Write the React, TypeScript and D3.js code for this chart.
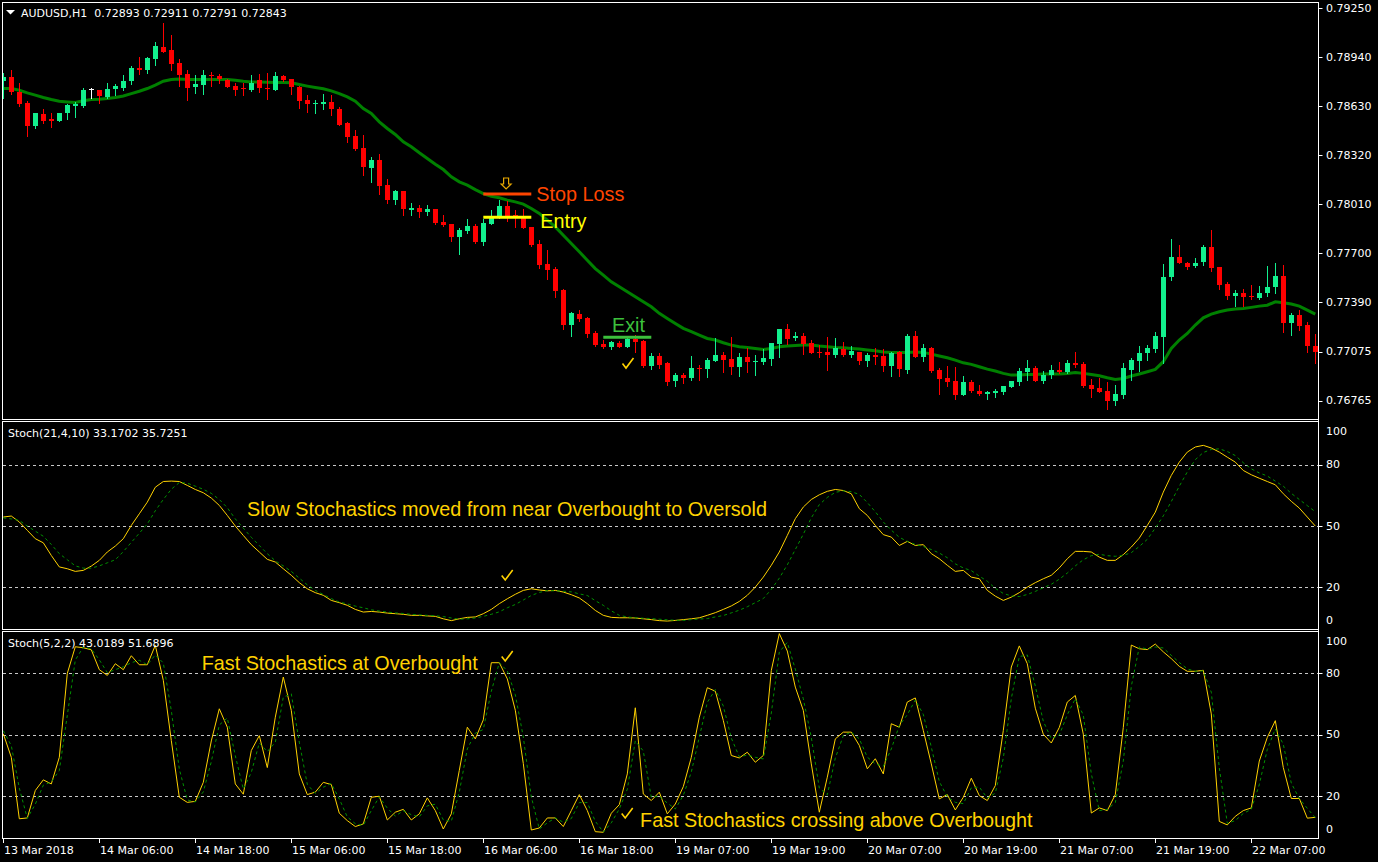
import React from "react";
import * as d3 from "d3";

const openP = [0.78788,0.78814,0.78717,0.78649,0.78503,0.78579,0.78550,0.78537,0.78584,0.78634,0.78630,0.78736,0.78731,0.78689,0.78738,0.78748,0.78790,0.78871,0.78858,0.78928,0.79004,0.78985,0.78902,0.78833,0.78752,0.78763,0.78826,0.78824,0.78799,0.78759,0.78746,0.78731,0.78795,0.78748,0.78731,0.78820,0.78801,0.78752,0.78672,0.78645,0.78643,0.78655,0.78611,0.78525,0.78440,0.78366,0.78240,0.78288,0.78130,0.78039,0.78092,0.77974,0.77986,0.77961,0.77978,0.77898,0.77883,0.77803,0.77839,0.77870,0.77769,0.77883,0.77934,0.77997,0.77944,0.77919,0.77862,0.77757,0.77630,0.77598,0.77465,0.77244,0.77313,0.77290,0.77195,0.77124,0.77107,0.77128,0.77107,0.77155,0.77145,0.76986,0.77048,0.77001,0.76891,0.76927,0.76906,0.76974,0.76965,0.77016,0.77054,0.77029,0.76980,0.77039,0.77012,0.77007,0.77029,0.77124,0.77218,0.77162,0.77174,0.77132,0.77075,0.77075,0.77054,0.77090,0.77054,0.77075,0.77018,0.77054,0.77048,0.76986,0.77075,0.76959,0.77174,0.77043,0.77096,0.76959,0.76910,0.76889,0.76801,0.76881,0.76826,0.76807,0.76811,0.76818,0.76853,0.76883,0.76948,0.76972,0.76889,0.76927,0.76959,0.76948,0.77003,0.76997,0.76864,0.76847,0.76826,0.76763,0.76801,0.76959,0.77016,0.77064,0.77090,0.77170,0.77550,0.77676,0.77638,0.77619,0.77645,0.77737,0.77611,0.77503,0.77429,0.77444,0.77429,0.77417,0.77444,0.77482,0.77554,0.77254,0.77307,0.77244,0.77113];
const highP = [0.78841,0.78858,0.78774,0.78662,0.78590,0.78611,0.78590,0.78590,0.78647,0.78657,0.78746,0.78748,0.78731,0.78774,0.78769,0.78826,0.78883,0.78940,0.78942,0.79035,0.79158,0.79079,0.78928,0.78858,0.78826,0.78858,0.78847,0.78833,0.78805,0.78774,0.78778,0.78826,0.78833,0.78841,0.78847,0.78826,0.78801,0.78757,0.78700,0.78672,0.78710,0.78700,0.78622,0.78531,0.78478,0.78446,0.78309,0.78326,0.78166,0.78102,0.78092,0.78016,0.78003,0.78003,0.77982,0.77940,0.77883,0.77856,0.77915,0.77887,0.77913,0.77972,0.78035,0.78027,0.77972,0.77982,0.77866,0.77782,0.77719,0.77613,0.77470,0.77328,0.77339,0.77297,0.77206,0.77149,0.77145,0.77145,0.77166,0.77180,0.77149,0.77064,0.77064,0.77012,0.76942,0.76938,0.77048,0.76991,0.77033,0.77159,0.77071,0.77166,0.77064,0.77096,0.77054,0.77090,0.77128,0.77218,0.77250,0.77199,0.77191,0.77149,0.77117,0.77170,0.77159,0.77138,0.77111,0.77075,0.77064,0.77096,0.77090,0.77075,0.77081,0.77187,0.77206,0.77124,0.77107,0.76969,0.76984,0.76980,0.76921,0.76896,0.76864,0.76826,0.76839,0.76858,0.76889,0.76969,0.77022,0.76984,0.76953,0.76991,0.77007,0.77022,0.77071,0.77007,0.76900,0.76906,0.76881,0.76864,0.77001,0.77033,0.77111,0.77117,0.77202,0.77630,0.77788,0.77750,0.77645,0.77666,0.77754,0.77845,0.77611,0.77518,0.77465,0.77472,0.77497,0.77491,0.77617,0.77634,0.77624,0.77318,0.77339,0.77265,0.77187];
const lowP = [0.78683,0.78710,0.78630,0.78440,0.78495,0.78525,0.78497,0.78535,0.78550,0.78563,0.78622,0.78683,0.78653,0.78685,0.78704,0.78731,0.78769,0.78837,0.78841,0.78890,0.78974,0.78858,0.78757,0.78672,0.78714,0.78706,0.78759,0.78774,0.78752,0.78700,0.78700,0.78727,0.78721,0.78676,0.78731,0.78788,0.78706,0.78620,0.78594,0.78588,0.78615,0.78573,0.78510,0.78404,0.78352,0.78193,0.78151,0.78077,0.78014,0.78008,0.77942,0.77942,0.77929,0.77940,0.77883,0.77872,0.77778,0.77693,0.77828,0.77765,0.77750,0.77883,0.77919,0.77904,0.77862,0.77856,0.77746,0.77607,0.77535,0.77423,0.77218,0.77174,0.77271,0.77166,0.77113,0.77100,0.77090,0.77102,0.77107,0.77071,0.76980,0.76965,0.76974,0.76864,0.76858,0.76879,0.76896,0.76896,0.76917,0.77016,0.76948,0.76934,0.76923,0.76948,0.76927,0.76997,0.76991,0.77043,0.77124,0.77149,0.77060,0.77064,0.77043,0.76959,0.77043,0.77048,0.77043,0.76997,0.76984,0.76997,0.76955,0.76921,0.76921,0.76942,0.77043,0.77018,0.76948,0.76807,0.76858,0.76775,0.76801,0.76818,0.76801,0.76775,0.76790,0.76807,0.76853,0.76864,0.76896,0.76889,0.76879,0.76910,0.76942,0.76942,0.76980,0.76853,0.76790,0.76822,0.76712,0.76737,0.76780,0.76896,0.76953,0.77022,0.77075,0.77001,0.77529,0.77634,0.77600,0.77609,0.77624,0.77588,0.77474,0.77412,0.77364,0.77364,0.77412,0.77406,0.77429,0.77448,0.77202,0.77180,0.77212,0.77075,0.77001];
const closeP = [0.78812,0.78721,0.78643,0.78503,0.78584,0.78535,0.78537,0.78586,0.78636,0.78641,0.78731,0.78736,0.78693,0.78742,0.78757,0.78788,0.78871,0.78858,0.78934,0.79010,0.78974,0.78898,0.78826,0.78746,0.78769,0.78826,0.78820,0.78803,0.78752,0.78731,0.78736,0.78778,0.78746,0.78736,0.78820,0.78795,0.78752,0.78662,0.78647,0.78651,0.78657,0.78611,0.78514,0.78436,0.78358,0.78246,0.78288,0.78126,0.78035,0.78092,0.77976,0.77984,0.77961,0.77978,0.77891,0.77877,0.77803,0.77845,0.77870,0.77769,0.77889,0.77919,0.77997,0.77934,0.77929,0.77860,0.77750,0.77624,0.77592,0.77459,0.77244,0.77322,0.77282,0.77187,0.77117,0.77107,0.77138,0.77107,0.77155,0.77138,0.76984,0.77048,0.76991,0.76885,0.76927,0.76910,0.76969,0.76965,0.77022,0.77054,0.77022,0.76980,0.77039,0.77012,0.77018,0.77033,0.77128,0.77218,0.77155,0.77174,0.77124,0.77069,0.77069,0.77054,0.77096,0.77054,0.77081,0.77018,0.77054,0.77043,0.76984,0.77064,0.76963,0.77174,0.77043,0.77096,0.76955,0.76902,0.76885,0.76801,0.76881,0.76826,0.76807,0.76820,0.76828,0.76858,0.76889,0.76953,0.76972,0.76889,0.76927,0.76959,0.76948,0.77003,0.76991,0.76860,0.76839,0.76822,0.76763,0.76807,0.76974,0.77022,0.77069,0.77096,0.77174,0.77550,0.77676,0.77638,0.77613,0.77640,0.77737,0.77607,0.77497,0.77429,0.77444,0.77423,0.77419,0.77444,0.77486,0.77554,0.77254,0.77307,0.77240,0.77113,0.77075];
const maP = [0.78742,0.78742,0.78731,0.78714,0.78700,0.78685,0.78672,0.78662,0.78657,0.78653,0.78664,0.78672,0.78674,0.78679,0.78685,0.78695,0.78710,0.78725,0.78742,0.78763,0.78788,0.78799,0.78803,0.78799,0.78799,0.78799,0.78799,0.78799,0.78799,0.78795,0.78788,0.78784,0.78784,0.78782,0.78780,0.78780,0.78778,0.78767,0.78757,0.78748,0.78740,0.78727,0.78710,0.78689,0.78662,0.78615,0.78584,0.78531,0.78489,0.78451,0.78404,0.78373,0.78335,0.78299,0.78263,0.78229,0.78183,0.78151,0.78130,0.78102,0.78077,0.78060,0.78050,0.78035,0.78024,0.78010,0.77982,0.77951,0.77908,0.77866,0.77813,0.77761,0.77708,0.77655,0.77602,0.77560,0.77518,0.77486,0.77455,0.77423,0.77391,0.77360,0.77318,0.77286,0.77254,0.77223,0.77202,0.77180,0.77159,0.77149,0.77132,0.77117,0.77107,0.77102,0.77096,0.77090,0.77096,0.77107,0.77111,0.77115,0.77117,0.77117,0.77111,0.77107,0.77102,0.77100,0.77096,0.77092,0.77086,0.77081,0.77073,0.77071,0.77071,0.77071,0.77073,0.77071,0.77060,0.77048,0.77037,0.77022,0.77005,0.76995,0.76980,0.76965,0.76953,0.76938,0.76927,0.76927,0.76931,0.76931,0.76934,0.76934,0.76934,0.76938,0.76944,0.76938,0.76931,0.76923,0.76910,0.76900,0.76906,0.76921,0.76934,0.76948,0.76963,0.77012,0.77096,0.77149,0.77191,0.77244,0.77290,0.77313,0.77328,0.77339,0.77345,0.77349,0.77356,0.77364,0.77370,0.77391,0.77385,0.77377,0.77364,0.77339,0.77313];

const slowMain = [54.4,54.9,52,47.9,43.8,41.8,35.6,30,29.1,27.8,28.3,30.4,33.2,37.3,40.2,43.8,50.3,56,61.7,69,71.8,72,71.8,69.9,67.9,66.3,63.7,60.1,55.2,50,45.4,40.9,37.3,33.7,32.4,29.1,25.9,22.3,19.3,17.4,16.1,13.6,12.5,11.2,9.2,7.9,8.2,7.9,7.4,7.1,6.8,6.3,6.3,6,5.8,4.6,3.7,4.6,5.3,5.5,7.1,9.2,12,14.4,16.6,18.5,19.3,18.7,18.3,18.5,17.7,16.4,14.8,12,8.7,6.3,5.3,5.1,5.1,5,4.6,4.2,3.7,3.5,3.8,4.2,4.6,5.1,6.3,7.6,9.2,10.9,13.1,16.1,20.1,25,30.8,37.3,45.4,53.6,59.3,63,65.3,67,67.9,67.4,65.8,58.5,55.2,50.3,45.8,44.6,40.5,42.5,40.5,40.9,36.5,34,30.8,27.8,28.3,25,24.2,18.5,15.7,13.6,15.2,17.4,20.1,22.3,24.2,25.9,29.5,34,37.6,37.6,37.3,34.8,33.2,33.2,36,39.7,44.1,50.3,56.8,66.6,74.8,81.3,86.2,88.7,89.5,88.2,86.2,83.7,81.3,77.2,75.1,73.4,71.8,70.2,65.8,62.1,58.8,54.4,50];
const slowSignal = [54,53.5,52.8,50,47.5,45,41,36.5,33.5,30.5,29.4,29.4,30.5,32,33.5,37.5,42,46.5,51,57.5,63,68,71.3,71,69.5,68,66,63,59,53.5,49,44.5,40.5,36.5,33,30.5,27.8,24.5,21.2,18.5,16.5,14.5,12.8,11.9,10.8,10,9,8.4,7.9,7.5,7.2,6.8,6.5,6.3,6.1,5.7,5,4.4,4.6,5,5.8,6.8,8,10,11.6,13.8,16,17.5,18.4,18.3,18.1,17.8,16.8,16,13.5,11.2,8.5,6.3,5.5,5.1,4.9,4.7,4.4,4.1,3.9,3.8,4.2,4.5,4.7,5.5,6.2,7.5,8.8,10.5,12.5,14.5,19,24.5,31,38.5,46,54,60.5,64,66.5,67.2,66.8,65.5,61.5,57,52,48,44.5,42.5,41,40,38.5,36.8,34.5,31.5,29.5,28.2,25.5,23,19.5,17,15.8,15.5,16.5,18,19.8,21.5,24,27,30.5,33.5,35.5,36.2,35.5,35.2,35.6,37,40,43.5,49,55,62,69.5,76.5,82.5,86,87.5,87.8,86.5,84.5,81,78,76,74.5,72,69.5,66,63,60,57];
const fastMain = [50.5,39,9,9.4,22.8,28,26,39,80,93,92.5,91.5,81.8,79,84.7,81.8,88.6,84.2,84.2,93.7,76.6,47.2,19.5,17,17.5,26.8,47,62.7,53.7,26,21,42.3,49.6,34,58.6,78.2,61.9,30.9,20.8,22,26.8,25.7,11.7,8.1,5.2,6.5,19.5,20,8.4,12.2,13.6,8.4,11.4,19.2,13,4,11.4,32.6,53.7,48,57.3,85.2,85.2,77.3,62,36,3.5,4.5,9.4,9.4,5.2,13,20.8,13,2.7,2.4,11.7,15.9,30.9,63.2,21.1,17.9,22,11.4,16.2,24.7,39,58.6,73,71.3,57,39.9,38.7,41.5,36.6,39.9,81.4,99.4,90.9,73.3,61.9,35.8,12.2,29.3,48,51.3,51.3,44.8,33.4,38.3,30.9,55.4,53.7,66,68,52.1,35.8,18.7,20.8,13.3,19.5,28.8,20.3,17.9,25.2,52.1,83.1,93.4,84.7,63,50.3,46,53.6,66,69.2,50.3,11.8,14.3,13,20.8,53.6,93.8,92,91.6,94.3,90.5,87.2,83.4,81,81,81.5,60.2,7.7,6,10.2,13,14.3,37.2,48.7,56.9,34,18.9,18.9,9.3,9.7];
const fastSignal = [52,44.7,24,9.2,16.1,25.4,27,32.5,59.5,86.5,92.8,92,86.6,80.4,81.8,83.2,85.2,86.4,84.2,89,85.1,61.9,33.3,18.2,17.2,22.1,36.9,54.8,58.2,39.8,23.5,31.6,46,41.8,46.3,68.4,70,46.4,25.8,21.4,24.4,26.2,18.7,9.9,6.6,5.8,13,19.7,14.2,10.3,12.9,11,9.9,15.3,16.1,8.5,7.7,22,43.1,50.8,52.6,71.2,85.2,81.2,69.6,49,19.7,4,7,9.4,7.3,9.1,16.9,16.9,7.8,2.5,7,13.8,23.4,47,42.1,19.5,20,16.7,13.8,20.4,31.8,48.8,65.8,72.1,64.1,48.4,39.3,40.1,39,38.2,60.6,90.4,95.1,82.1,67.6,48.8,24,20.7,38.6,49.6,51.3,48,39.1,35.8,34.6,43.1,54.5,59.8,67,60,44,27.2,19.7,17,16.4,24.1,24.5,19.1,21.5,38.6,67.6,88.2,89,73.8,56.6,48.1,49.8,59.8,67.6,59.7,31,13,13.6,16.9,37.2,73.7,92.9,91.8,92.9,92.4,88.8,85.3,82.2,81,81.2,70.8,33.9,6.8,8.1,11.6,13.6,25.7,42.9,52.8,45.4,26.4,18.9,14.1,9.5];

const timeLabels = ["13 Mar 2018","14 Mar 06:00","14 Mar 18:00","15 Mar 06:00","15 Mar 18:00","16 Mar 06:00","16 Mar 18:00","19 Mar 07:00","19 Mar 19:00","20 Mar 07:00","20 Mar 19:00","21 Mar 07:00","21 Mar 19:00","22 Mar 07:00"];
const barsPerLabel = 12;
const priceTicks = [0.7925,0.7894,0.7863,0.7832,0.7801,0.777,0.7739,0.77075,0.76765];
const stochLevels = [80, 50, 20];
const stochAxis = [100, 80, 50, 20, 0];

const headerMain = "AUDUSD,H1  0.72893 0.72911 0.72791 0.72843";
const headerSlow = "Stoch(21,4,10) 33.1702 35.7251";
const headerFast = "Stoch(5,2,2) 43.0189 51.6896";

const stopLoss = { price: 0.78074, from: 60, to: 66, label: "Stop Loss" };
const entry = { price: 0.77927, from: 60, to: 66, label: "Entry" };
const exitLvl = { price: 0.77167, from: 75, to: 81, label: "Exit" };

const slowNote = { bar: 30.46, value: 54.9, text: "Slow Stochastics moved from near Overbought to Oversold" };
const fastNote1 = { bar: 24.8, value: 81.6, text: "Fast Stochastics at Overbought" };
const fastNote2 = { bar: 79.6, value: 5.0, text: "Fast Stochastics crossing above Overbought" };
const checkMain = { bar: 77.4, price: 0.77035 };
const checkSlow = { bar: 62.3, value: 28.5 };
const checkFast1 = { bar: 62.3, value: 90.9 };
const checkFast2 = { bar: 77.3, value: 14.3 };

const BULL = "#12F08E";
const BEAR = "#FF0000";
const GOLD = "#FFD200";
const AXIS_FONT = "'DejaVu Sans', Verdana, sans-serif";
const NOTE_FONT = "'Liberation Sans', Arial, sans-serif";
const NOTE_SIZE = 19.8;

export default function App() {
  const n = openP.length;
  const x = d3.scaleLinear().domain([0, n - 1]).range([3.3, 3.3 + 8 * (n - 1)]);
  const yP = d3.scaleLinear().domain([0.76765, 0.7925]).range([400.7, 8.3]);
  const y1 = d3.scaleLinear().domain([0, 100]).range([628.2, 423.9]);
  const y2 = d3.scaleLinear().domain([0, 100]).range([837.2, 632.4]);

  const maLine = d3.line<number>().x((_, i) => x(i)).y((d) => yP(d));
  const l1 = d3.line<number>().x((_, i) => x(i)).y((d) => y1(d));
  const l2 = d3.line<number>().x((_, i) => x(i)).y((d) => y2(d));

  const RIGHT = 1318.5;
  const panels = [
    { top: 2.5, bottom: 419.5 },
    { top: 421.5, bottom: 629.5 },
    { top: 631.5, bottom: 838.5 },
  ];

  const check = (xl: number, yt: number, key: string) => (
    <path key={key} d={`M${xl},${yt + 5.5} L${xl + 3.5},${yt + 10} L${xl + 11},${yt}`} stroke={GOLD} strokeWidth={1.6} fill="none" />
  );

  const stochAxisLabels = (ys: d3.ScaleLinear<number, number>, top: number, bottom: number, k: string) =>
    stochAxis.map((v) => {
      const yy = Math.min(Math.max(ys(v), top + 10), bottom - 9);
      return (
        <g key={k + v}>
          {v !== 100 && v !== 0 ? <line x1={RIGHT} x2={RIGHT + 4} y1={Math.round(ys(v)) + 0.5} y2={Math.round(ys(v)) + 0.5} stroke="#fff" /> : null}
          <text x={1326} y={yy} dominantBaseline="central" fontFamily={AXIS_FONT} fontSize={11} fill="#fff">{v}</text>
        </g>
      );
    });

  const arrowX = x(62.85);
  const arrowY = yP(stopLoss.price) - 16;

  return (
    <svg width={1378} height={862} style={{ position: "fixed", left: 0, top: 0, display: "block" }}>
      <rect x={0} y={0} width={1378} height={862} fill="#000" />
      <defs>
        <clipPath id="cMain"><rect x={3} y={3} width={1315} height={416} /></clipPath>
        <clipPath id="cS1"><rect x={3} y={422} width={1315} height={207} /></clipPath>
        <clipPath id="cS2"><rect x={3} y={632} width={1315} height={206} /></clipPath>
      </defs>

      {panels.map((p, i) => (
        <rect key={i} x={2.5} y={p.top} width={RIGHT - 2.5} height={p.bottom - p.top} fill="none" stroke="#fff" strokeWidth={1} />
      ))}

      <g clipPath="url(#cMain)">
        <path d={maLine(maP) || ""} fill="none" stroke="#008000" strokeWidth={3} />
        {openP.map((o, i) => {
          const c = closeP[i];
          const cx = Math.round(x(i));
          const col = o === c ? "#ffffff" : c > o ? BULL : BEAR;
          const top = Math.round(yP(Math.max(o, c)));
          const bot = Math.round(yP(Math.min(o, c)));
          return (
            <g key={i}>
              <line x1={cx + 0.5} x2={cx + 0.5} y1={Math.round(yP(highP[i]))} y2={Math.round(yP(lowP[i])) + 1} stroke={col} />
              {o === c ? (
                <line x1={cx - 2} x2={cx + 3} y1={top + 0.5} y2={top + 0.5} stroke={col} />
              ) : (
                <rect x={cx - 2} y={top} width={5} height={Math.max(1, bot - top)} fill={col} />
              )}
            </g>
          );
        })}
      </g>

      <line x1={x(stopLoss.from)} x2={x(stopLoss.to)} y1={yP(stopLoss.price)} y2={yP(stopLoss.price)} stroke="#FF4500" strokeWidth={3} />
      <line x1={x(entry.from)} x2={x(entry.to)} y1={yP(entry.price)} y2={yP(entry.price)} stroke="#FFFF00" strokeWidth={3} />
      <line x1={x(exitLvl.from)} x2={x(exitLvl.to)} y1={yP(exitLvl.price)} y2={yP(exitLvl.price)} stroke="#3CC03C" strokeWidth={3} />
      <text x={x(stopLoss.to) + 5} y={yP(stopLoss.price) + 7} fontFamily={NOTE_FONT} fontSize={NOTE_SIZE} fill="#FF4500">{stopLoss.label}</text>
      <text x={x(entry.to) + 9} y={yP(entry.price) + 11} fontFamily={NOTE_FONT} fontSize={NOTE_SIZE} fill="#FFFF00">{entry.label}</text>
      <text x={x(exitLvl.from + 1) + 0.7} y={yP(exitLvl.price) - 5.6} fontFamily={NOTE_FONT} fontSize={NOTE_SIZE} fill="#3CC03C">{exitLvl.label}</text>
      <path
        d={`M${arrowX - 2.5},${arrowY} L${arrowX + 2.5},${arrowY} L${arrowX + 2.5},${arrowY + 6} L${arrowX + 5},${arrowY + 6} L${arrowX},${arrowY + 11} L${arrowX - 5},${arrowY + 6} L${arrowX - 2.5},${arrowY + 6} Z`}
        fill="none" stroke="#E8A800" strokeWidth={1.2}
      />
      {check(x(checkMain.bar), yP(checkMain.price), "cm")}

      {priceTicks.map((p) => (
        <g key={p}>
          <line x1={RIGHT} x2={RIGHT + 4} y1={Math.round(yP(p)) + 0.5} y2={Math.round(yP(p)) + 0.5} stroke="#fff" />
          <text x={1326} y={yP(p)} dominantBaseline="central" fontFamily={AXIS_FONT} fontSize={11} fill="#fff">{p.toFixed(5)}</text>
        </g>
      ))}

      <path d="M6,10 L15,10 L10.5,14.5 Z" fill="#fff" />
      <text x={21} y={13} dominantBaseline="central" fontFamily={AXIS_FONT} fontSize={11} fill="#fff" style={{ whiteSpace: "pre" }}>{headerMain}</text>

      {stochLevels.map((v) => (
        <line key={"s1" + v} x1={3} x2={RIGHT} y1={Math.round(y1(v)) + 0.5} y2={Math.round(y1(v)) + 0.5} stroke="#C8C8C8" strokeDasharray="3,3" />
      ))}
      <g clipPath="url(#cS1)">
        <path d={l1(slowMain) || ""} fill="none" stroke={GOLD} strokeWidth={1} />
        <path d={l1(slowSignal) || ""} fill="none" stroke="#009000" strokeWidth={1} strokeDasharray="3,3" />
      </g>
      <text x={8} y={433} dominantBaseline="central" fontFamily={AXIS_FONT} fontSize={11} fill="#fff">{headerSlow}</text>
      <text x={x(slowNote.bar)} y={y1(slowNote.value)} fontFamily={NOTE_FONT} fontSize={NOTE_SIZE} fill={GOLD}>{slowNote.text}</text>
      {check(x(checkSlow.bar), y1(checkSlow.value), "cs")}
      {stochAxisLabels(y1, panels[1].top, panels[1].bottom, "a")}

      {stochLevels.map((v) => (
        <line key={"s2" + v} x1={3} x2={RIGHT} y1={Math.round(y2(v)) + 0.5} y2={Math.round(y2(v)) + 0.5} stroke="#C8C8C8" strokeDasharray="3,3" />
      ))}
      <g clipPath="url(#cS2)">
        <path d={l2(fastMain) || ""} fill="none" stroke={GOLD} strokeWidth={1} />
        <path d={l2(fastSignal) || ""} fill="none" stroke="#009000" strokeWidth={1} strokeDasharray="3,3" />
      </g>
      <text x={8} y={643} dominantBaseline="central" fontFamily={AXIS_FONT} fontSize={11} fill="#fff">{headerFast}</text>
      <text x={x(fastNote1.bar)} y={y2(fastNote1.value)} fontFamily={NOTE_FONT} fontSize={NOTE_SIZE} fill={GOLD}>{fastNote1.text}</text>
      <text x={x(fastNote2.bar)} y={y2(fastNote2.value)} fontFamily={NOTE_FONT} fontSize={NOTE_SIZE} fill={GOLD}>{fastNote2.text}</text>
      {check(x(checkFast1.bar), y2(checkFast1.value), "cf1")}
      {check(x(checkFast2.bar), y2(checkFast2.value), "cf2")}
      {stochAxisLabels(y2, panels[2].top, panels[2].bottom, "b")}

      <line x1={RIGHT} x2={RIGHT} y1={2} y2={839} stroke="#fff" />

      {timeLabels.map((t, k) => {
        const tx = Math.round(x(k * barsPerLabel));
        return (
          <g key={t}>
            <line x1={tx + 0.5} x2={tx + 0.5} y1={838.5} y2={843} stroke="#fff" />
            <text x={tx + 1} y={850} dominantBaseline="central" fontFamily={AXIS_FONT} fontSize={11} fill="#fff">{t}</text>
          </g>
        );
      })}
    </svg>
  );
}
